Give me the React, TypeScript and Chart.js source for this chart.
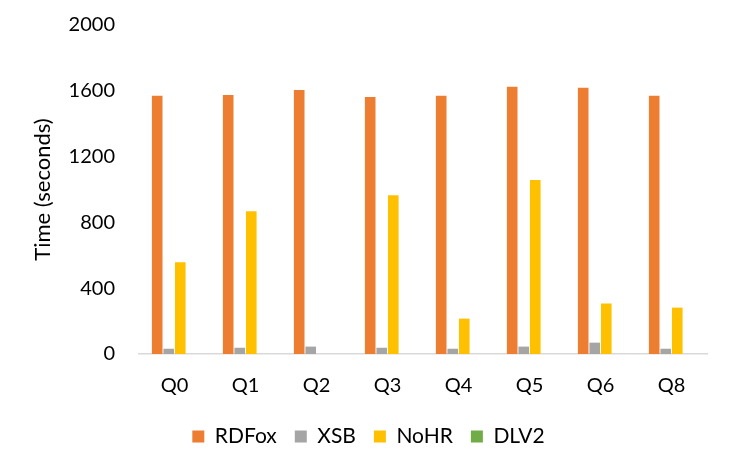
import { useEffect, useRef } from "react";
import { Chart, registerables } from "chart.js";

Chart.register(...registerables);

const queries = ["Q0", "Q1", "Q2", "Q3", "Q4", "Q5", "Q6", "Q8"];
const rdfox = [1570, 1575, 1605, 1563, 1570, 1625, 1618, 1570];
const xsb = [32, 38, 45, 38, 32, 45, 69, 32];
const nohr = [557, 868, 0, 965, 215, 1057, 307, 282];
const dlv2 = [0, 0, 0, 0, 0, 0, 0, 0];
const yTicks = [0, 400, 800, 1200, 1600, 2000];

const FONT = "Lato, 'Open Sans', sans-serif";

const App = () => {
  const canvasRef = useRef<HTMLCanvasElement>(null);

  useEffect(() => {
    if (!canvasRef.current) return;

    const chart = new Chart(canvasRef.current, {
      type: "bar",
      data: {
        labels: queries,
        datasets: [
          { label: "RDFox", data: rdfox, backgroundColor: "#ED7D31" },
          { label: "XSB", data: xsb, backgroundColor: "#A5A5A5" },
          { label: "NoHR", data: nohr, backgroundColor: "#FFC000" },
          { label: "DLV2", data: dlv2, backgroundColor: "#70AD47" },
        ],
      },
      options: {
        responsive: true,
        maintainAspectRatio: false,
        animation: false,
        layout: { padding: { left: 30, right: 23, top: 25, bottom: 12 } },
        datasets: {
          bar: { categoryPercentage: 0.65, barPercentage: 0.92 },
        },
        plugins: {
          tooltip: { enabled: false },
          legend: {
            position: "bottom",
            labels: {
              boxWidth: 12,
              boxHeight: 12,
              padding: 18,
              color: "#000",
              font: { family: FONT, size: 21 },
            },
          },
        },
        scales: {
          x: {
            afterFit: (scale) => {
              scale.height = 54;
              scale.paddingLeft = 0;
              scale.paddingRight = 0;
            },
            grid: { display: false, drawTicks: false },
            border: { display: true, color: "#D9D9D9", width: 1.5 },
            ticks: { color: "#000", padding: 20, font: { family: FONT, size: 20 } },
          },
          y: {
            min: 0,
            max: 2000,
            afterBuildTicks: (scale) => {
              scale.ticks = yTicks.map((v) => ({ value: v }));
            },
            afterFit: (scale) => {
              scale.width = 109;
              scale.paddingTop = 0;
              scale.paddingBottom = 0;
            },
            grid: { display: false, drawTicks: false },
            border: { display: false },
            ticks: {
              color: "#000",
              padding: 24,
              font: { family: FONT, size: 20 },
              callback: (v) => String(v),
            },
            title: {
              display: true,
              text: "Time (seconds)",
              color: "#000",
              padding: 0,
              font: { family: FONT, size: 22 },
            },
          },
        },
      },
    });

    return () => {
      chart.destroy();
    };
  }, []);

  return (
    <div style={{ position: "absolute", left: 0, top: 0, width: 730, height: 469, background: "#fff" }}>
      <canvas ref={canvasRef}></canvas>
    </div>
  );
};

export default App;
